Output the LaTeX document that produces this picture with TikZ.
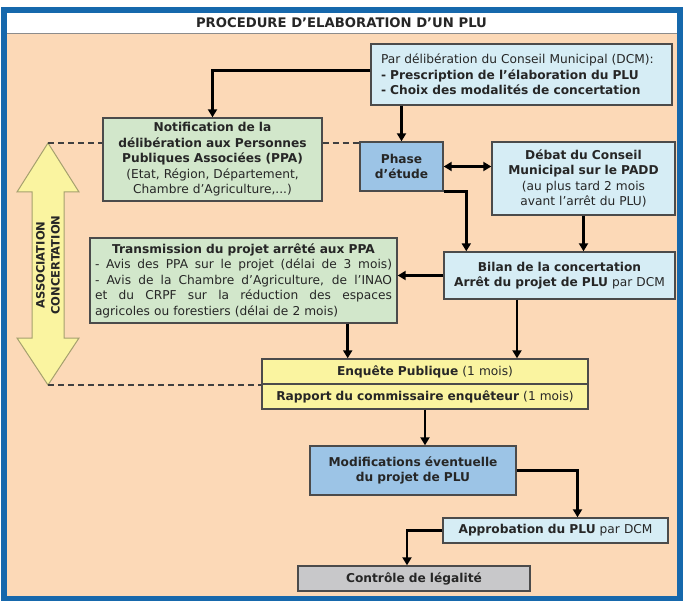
\documentclass[tikz,border=0pt]{standalone}
\usepackage{fontspec}
\setmainfont{DejaVu Sans}
\usepackage{xcolor}
\usetikzlibrary{positioning,arrows.meta}
\definecolor{peach}{RGB}{252,217,183}
\definecolor{frameblue}{RGB}{22,104,172}
\definecolor{paleblue}{RGB}{214,237,245}
\definecolor{midblue}{RGB}{156,196,230}
\definecolor{palegreen}{RGB}{210,231,203}
\definecolor{paleyellow}{RGB}{250,244,160}
\definecolor{palegray}{RGB}{200,200,202}
\definecolor{boxline}{RGB}{75,75,75}
\definecolor{arrowline}{RGB}{165,160,110}
\newcommand{\fullline}[1]{\makebox[\linewidth][s]{\spaceskip=.33em plus 2em #1}}
\tikzset{
  >={Triangle[length=8pt,width=9pt]},
  box/.style={draw=boxline, line width=1.4pt, inner sep=4pt, align=center,
    text=black!85, font=\fontsize{12.2}{15.5}\selectfont},
  flow/.style={line width=2.6pt, ->},
  dashline/.style={line width=1.6pt, black!75, dash pattern=on 6pt off 4pt},
}

\begin{document}
\begin{tikzpicture}[x=1pt,y=-1pt]
\useasboundingbox (0,0) rectangle (684,601);
\fill[white] (0,0) rectangle (684,601);
\fill[peach] (6,33) rectangle (677,596);
\draw[black!45, line width=0.8pt] (6,33) -- (677,33);
\draw[frameblue, line width=6pt] (3.5,10) rectangle (679.5,598.5);
\node[font=\bfseries\fontsize{13.2}{14}\selectfont, text=black!85] (title) at (341.5,22.5) {PROCEDURE D'ELABORATION D'UN PLU};

% boxes
\node[box, fill=paleblue, text width=281, inner xsep=10pt, minimum height=61, align=left] (dcm) at (521.5,74.5)
  {Par délibération du Conseil Municipal (DCM):\\\textbf{- Prescription de l'élaboration du PLU}\\\textbf{- Choix des modalités de concertation}};
\node[box, fill=palegreen, text width=211, minimum height=83] (notif) at (212.5,159.5)
  {\textbf{Notification de la}\\\textbf{délibération aux Personnes}\\\textbf{Publiques Associées (PPA)}\\(Etat, Région, Département,\\Chambre d'Agriculture,...)};
\node[box, fill=midblue, text width=75, minimum height=49] (phase) at (401.5,166.5)
  {\textbf{Phase}\\\textbf{d'étude}};
\node[box, fill=paleblue, text width=175, minimum height=73] (debat) at (583.5,178.5)
  {\textbf{Débat du Conseil}\\\textbf{Municipal sur le PADD}\\(au plus tard 2 mois\\avant l'arrêt du PLU)};
\node[box, fill=palegreen, text width=297, inner xsep=5pt, minimum height=85, align=left] (trans) at (243.5,280.5)
  {\makebox[\linewidth][c]{\bfseries Transmission du projet arrêté aux PPA}\\
   \fullline{- Avis des PPA sur le projet (délai de 3 mois)}\\
   \fullline{- Avis de la Chambre d'Agriculture, de l'INAO}\\
   \fullline{et du CRPF sur la réduction des espaces}\\
   agricoles ou forestiers (délai de 2 mois)};
\node[box, fill=paleblue, text width=223, minimum height=47] (bilan) at (559.5,275.5)
  {\textbf{Bilan de la concertation}\\\textbf{Arrêt du projet de PLU} par DCM};
\node[box, fill=paleyellow, text width=318, minimum height=25] (enqa) at (425,371.5)
  {\textbf{Enquête Publique} (1 mois)};
\node[box, fill=paleyellow, text width=318, minimum height=25] (enqb) at (425,396.5)
  {\textbf{Rapport du commissaire enquêteur} (1 mois)};
\node[box, fill=midblue, text width=198, minimum height=49] (modif) at (413,470.5)
  {\textbf{Modifications éventuelle}\\\textbf{du projet de PLU}};
\node[box, fill=paleblue, text width=217, minimum height=25] (appro) at (555.5,530.5)
  {\textbf{Approbation du PLU} par DCM};
\node[box, fill=palegray, text width=224, minimum height=25] (ctrl) at (414,578.5)
  {\textbf{Contrôle de légalité}};

% association / concertation
\coordinate (assocTop) at (48,143);
\coordinate (assocBot) at (48,385);
\filldraw[fill=paleyellow, draw=arrowline, line width=1pt] (assocTop) -- (79,192) -- (64,192) -- (64,338) -- (79,338)
  -- (assocBot) -- (17,338) -- (32,338) -- (32,192) -- (17,192) -- cycle;
\node[rotate=90, align=center, text=black!85, font=\bfseries\fontsize{11.5}{15}\selectfont] (assoc) at (48,265)
  {ASSOCIATION\\CONCERTATION};
\draw[dashline] (assocTop) -- (assocTop -| notif.west);
\draw[dashline] (assocTop -| notif.east) -- (assocTop -| phase.west);
\draw[dashline] (assocBot) -- (assocBot -| enqa.west);

% connectors
\draw[flow] ([yshift=4pt]dcm.west) -| (notif.north);
\draw[flow] (phase.north |- dcm.south) -- (phase.north);
\draw[flow,<->] (phase.east) -- (phase.east -| debat.west);
\draw[flow] (phase.south east) -| ([xshift=23pt]bilan.north west);
\draw[flow] (debat.south) -- (debat.south |- bilan.north);
\draw[flow] (bilan.west) -- (bilan.west -| trans.east);
\draw[flow] ([xshift=-50pt]trans.south east) -- ([xshift=-50pt]trans.south east |- enqa.north);
\draw[flow] ([xshift=-42.5pt]bilan.south) -- ([xshift=-42.5pt]bilan.south |- enqa.north);
\draw[flow] (enqb.south) -- (enqb.south |- modif.north);
\draw[flow] (modif.east) -| ([xshift=22pt]appro.north);
\draw[flow] (appro.west) -| ([xshift=-7pt]ctrl.north);
\end{tikzpicture}
\end{document}
